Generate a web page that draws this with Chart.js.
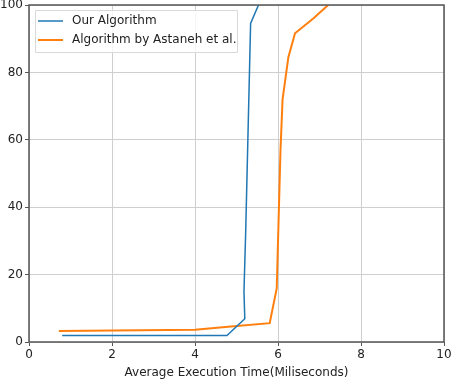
<!DOCTYPE html>
<html>
<head>
<meta charset="utf-8">
<script src="https://cdn.jsdelivr.net/npm/chart.js@4/dist/chart.umd.min.js"></script>
<style>
  html, body { margin: 0; padding: 0; background: #fff; }
  #wrap { width: 451px; height: 380px; }
</style>
</head>
<body>
<div id="wrap"><canvas id="chart"></canvas></div>
<script>
// series: [time in ms, percent]
var ourTimes = [0.8, 4.77, 5.2, 5.18, 5.22, 5.34, 5.53];
var ourValues = [1.9, 1.9, 6.9, 15, 32, 94.5, 100];
var astanehTimes = [0.72, 4.0, 4.8, 5.8, 5.97, 6.06, 6.11, 6.25, 6.41, 6.85, 7.21];
var astanehValues = [3.3, 3.6, 4.5, 5.6, 16, 57, 72, 84.5, 91.6, 96, 100];
var seriesNames = ["Our Algorithm", "Algorithm by Astaneh et al."];
var xTitle = "Average Execution Time(Miliseconds)";

function toPoints(xs, ys) {
  return xs.map(function (x, i) { return { x: x, y: ys[i] }; });
}

var fontFamily = "'DejaVu Sans', sans-serif";

// box around the plot area plus a matplotlib-like legend inside it
var frameAndLegend = {
  id: 'frameAndLegend',
  afterDatasetsDraw: function (chart) {
    var ctx = chart.ctx;
    var a = chart.chartArea;
    ctx.save();
    ctx.strokeStyle = '#555';
    ctx.lineWidth = 1.5;
    ctx.strokeRect(a.left, a.top, a.right - a.left, a.bottom - a.top);

    var bx = a.left + 6, by = a.top + 5, bw = 202, bh = 42;
    ctx.fillStyle = 'rgba(255,255,255,0.8)';
    ctx.strokeStyle = '#d9d9d9';
    ctx.lineWidth = 1;
    ctx.beginPath();
    ctx.rect(bx + 0.5, by + 0.5, bw, bh);
    ctx.fill();
    ctx.stroke();

    ctx.font = '12px ' + fontFamily;
    ctx.textBaseline = 'middle';
    chart.data.datasets.forEach(function (ds, i) {
      var ly = by + 11 + i * 19;
      ctx.strokeStyle = ds.borderColor;
      ctx.lineWidth = ds.borderWidth;
      ctx.beginPath();
      ctx.moveTo(bx + 3, ly);
      ctx.lineTo(bx + 28, ly);
      ctx.stroke();
      ctx.fillStyle = '#222';
      ctx.fillText(ds.label, bx + 37, ly);
    });
    ctx.restore();
  }
};

new Chart(document.getElementById('chart').getContext('2d'), {
  type: 'scatter',
  data: {
    datasets: [{
      label: seriesNames[0],
      data: toPoints(ourTimes, ourValues),
      showLine: true,
      borderColor: '#1f77b4',
      backgroundColor: '#1f77b4',
      borderWidth: 1.5,
      pointRadius: 0,
      tension: 0
    }, {
      label: seriesNames[1],
      data: toPoints(astanehTimes, astanehValues),
      showLine: true,
      borderColor: '#ff7f0e',
      backgroundColor: '#ff7f0e',
      borderWidth: 2,
      pointRadius: 0,
      tension: 0
    }]
  },
  options: {
    responsive: true,
    maintainAspectRatio: false,
    animation: false,
    layout: { padding: { top: 5, right: 7, left: 0, bottom: 0 } },
    plugins: {
      legend: { display: false },
      tooltip: { enabled: false }
    },
    scales: {
      x: {
        type: 'linear',
        min: 0,
        max: 10,
        ticks: { stepSize: 2, color: '#222', font: { family: fontFamily, size: 12 }, padding: 2, maxRotation: 0 },
        grid: { color: '#cfcfcf', tickColor: '#555', tickLength: 4 },
        border: { display: false },
        title: { display: true, text: xTitle, color: '#222', font: { family: fontFamily, size: 12 }, padding: { top: 0, bottom: 0 } },
        afterFit: function (scale) {
          scale.height = 38;
          scale.paddingLeft = 0;
          scale.paddingRight = 0;
        }
      },
      y: {
        min: 0,
        max: 100,
        ticks: { stepSize: 20, color: '#222', font: { family: fontFamily, size: 12 }, padding: 2 },
        grid: { color: '#cfcfcf', tickColor: '#555', tickLength: 4 },
        border: { display: false },
        afterFit: function (scale) {
          scale.width = 29;
          scale.paddingTop = 0;
          scale.paddingBottom = 0;
        }
      }
    }
  },
  plugins: [frameAndLegend]
});
</script>
</body>
</html>
